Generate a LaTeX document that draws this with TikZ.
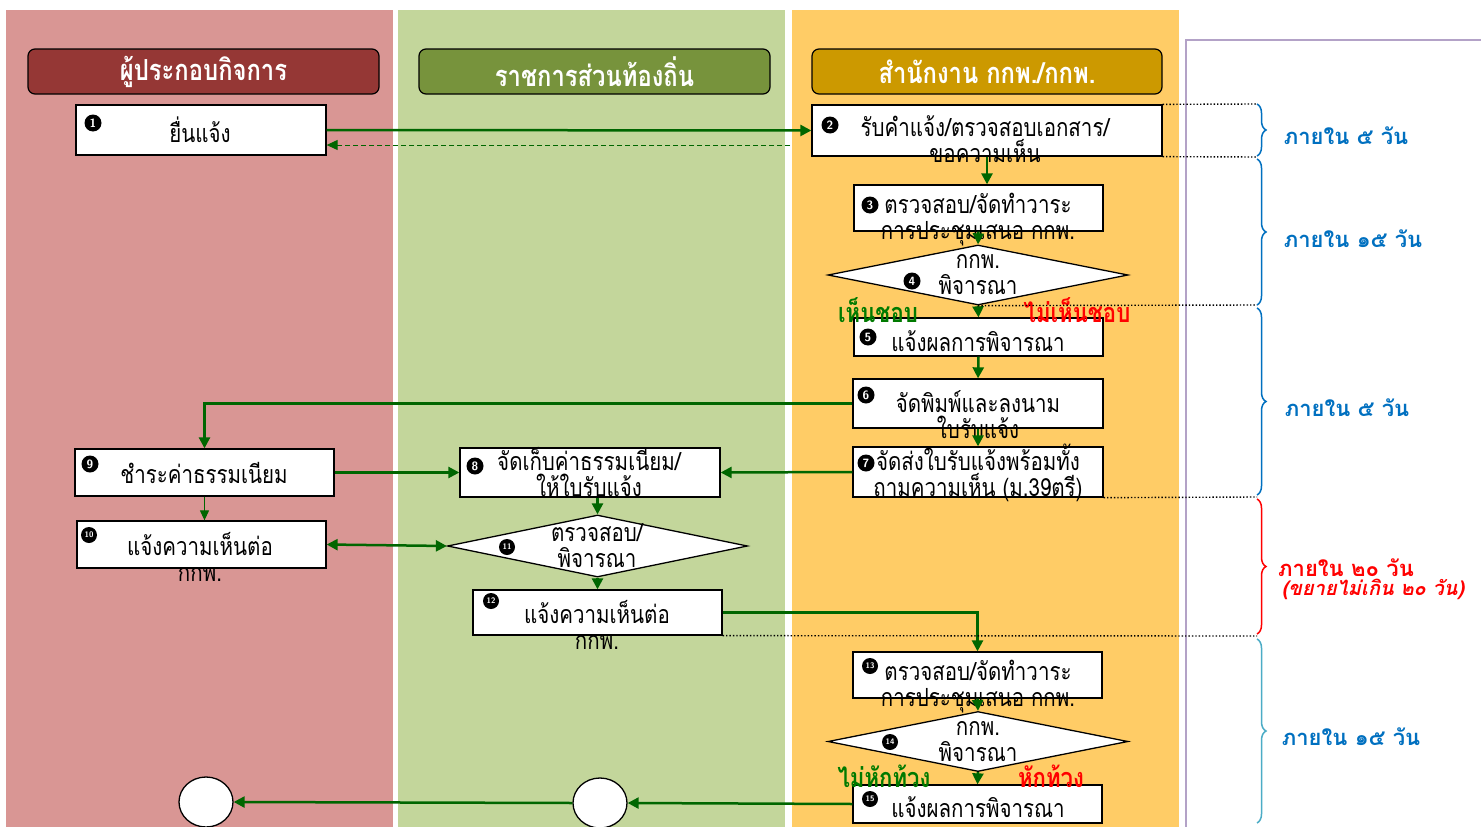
\documentclass[tikz,border=0pt]{standalone}
\usepackage{fontspec}
\newfontfamily\thai[Script=Thai,FakeStretch=0.82]{Loma}
\newfontfamily\thaiw[Script=Thai]{Loma}
\usetikzlibrary{arrows.meta,shapes.geometric,decorations.pathreplacing}
\definecolor{lanered}{HTML}{D99694}
\definecolor{lanegreen}{HTML}{C3D69B}
\definecolor{laneorange}{HTML}{FFCC66}
\definecolor{hdred}{HTML}{953735}
\definecolor{hdgreen}{HTML}{77933C}
\definecolor{hdgold}{HTML}{CC9900}
\definecolor{arrowgreen}{HTML}{006600}
\definecolor{lblgreen}{HTML}{007A00}
\definecolor{timeblue}{HTML}{0070C0}
\definecolor{timecyan}{HTML}{4BACC6}
\definecolor{framecol}{HTML}{B3A2C7}
\begin{document}
\begin{tikzpicture}[x=1pt,y=-1pt,
  hdr/.style={draw=black,line width=1.2pt,rounded corners=7pt,minimum width=351pt,minimum height=45pt,inner sep=0pt,text=white,font=\thai\bfseries\fontsize{29}{32}\selectfont},
  stepbox/.style={draw=black,line width=1.3pt,fill=white,inner sep=0pt},
  decbox/.style={diamond,draw=black,line width=1.3pt,fill=white,inner sep=0pt,minimum width=300pt,minimum height=60pt},
  endbox/.style={ellipse,draw=black,line width=1.3pt,fill=white,inner sep=0pt,minimum width=54pt,minimum height=50pt},
  txt/.style={inner sep=0pt,align=center,font=\thai\fontsize{25}{26}\selectfont},
  mk/.style={circle,fill=black,text=white,inner sep=0pt,minimum size=17pt,font=\sffamily\bfseries\fontsize{12}{12}\selectfont},
  mkc/.style={circle,fill=black,text=white,inner sep=0pt,minimum size=16pt,font=\sffamily\bfseries\fontsize{8}{8}\selectfont},
  ga/.style={draw=arrowgreen,line width=2.5pt,-{Triangle[length=11pt,width=11pt]}},
  gaa/.style={draw=arrowgreen,line width=2.5pt,{Triangle[length=11pt,width=11pt]}-{Triangle[length=11pt,width=11pt]}},
  gthin/.style={draw=arrowgreen,line width=1.2pt,-{Triangle[length=10pt,width=9pt]}},
  gdash/.style={draw=arrowgreen,line width=1pt,dash pattern=on 5pt off 3pt,-{Triangle[length=11pt,width=10pt]}},
  dotl/.style={draw=black,line width=1.4pt,dotted},
  brc/.style={decorate,decoration={brace,amplitude=9pt},line width=1.5pt},
  tlbl/.style={inner sep=0pt,font=\thaiw\bfseries\fontsize{22}{24}\selectfont},
  clbl/.style={inner sep=0pt,font=\thai\bfseries\fontsize{27}{28}\selectfont}
]
\useasboundingbox (0,0) rectangle (1481,827);
\fill[white] (0,0) rectangle (1481,827);
% lanes
\fill[lanered] (6,10) rectangle (393,827);
\fill[lanegreen] (398,10) rectangle (785,827);
\fill[laneorange] (792,10) rectangle (1179,827);
\draw[framecol,line width=1.2pt] (1186,827) -- (1186,40) -- (1481,40);
% headers
\node[hdr,fill=hdred] (H1) at (203.5,71.5) {ผู้ประกอบกิจการ};
\node[hdr,fill=hdgreen] (H2) at (594.5,71.5) {ราชการส่วนท้องถิ่น};
\node[hdr,fill=hdgold,minimum width=350pt] (H3) at (987,71.5) {สำนักงาน กกพ./กกพ.};
% boxes
\node[stepbox,minimum width=250pt,minimum height=50pt] (B1) at (201,130) {};
\node[stepbox,minimum width=350pt,minimum height=51pt] (B2) at (987,130.5) {};
\node[stepbox,minimum width=249pt,minimum height=46pt] (B3) at (978.5,208) {};
\node[decbox] (D4) at (978,275) {};
\node[stepbox,minimum width=249pt,minimum height=38pt] (B5) at (978.5,337) {};
\node[stepbox,minimum width=250pt,minimum height=49pt] (B6) at (978,403.5) {};
\node[stepbox,minimum width=250pt,minimum height=50pt] (B7) at (978,472) {};
\node[stepbox,minimum width=260pt,minimum height=49pt] (B8) at (590,472.5) {};
\node[stepbox,minimum width=259pt,minimum height=47pt] (B9) at (204.5,472.5) {};
\node[stepbox,minimum width=249pt,minimum height=47pt] (B10) at (201.5,544.5) {};
\node[decbox,minimum height=62pt] (D11) at (597.5,546) {};
\node[stepbox,minimum width=249pt,minimum height=45pt] (B12) at (597.5,612.5) {};
\node[stepbox,minimum width=249pt,minimum height=46pt] (B13) at (977.5,675) {};
\node[decbox] (D14) at (978,741.5) {};
\node[stepbox,minimum width=249pt,minimum height=38pt] (B15) at (977.5,804) {};
\node[endbox] (C1) at (206,802) {};
\node[endbox] (C2) at (600,803) {};
% texts
\node[txt] (t1) at (200,130) {ยื่นแจ้ง};
\node[txt] (t2) at (985,139) {รับคำแจ้ง/ตรวจสอบเอกสาร/\\ขอความเห็น};
\node[txt] (t3) at (978,220) {ตรวจสอบ/จัดทำวาระ\\การประชุมเสนอ กกพ.};
\node[txt] (t4) at (978,275) {กกพ.\\พิจารณา};
\node[txt] (t5) at (978,341) {แจ้งผลการพิจารณา};
\node[txt] (t6) at (978,415) {จัดพิมพ์และลงนาม\\ใบรับแจ้ง};
\node[txt] (t7) at (978,473) {จัดส่งใบรับแจ้งพร้อมทั้ง\\ถามความเห็น (ม.39ตรี)};
\node[txt] (t8) at (589,472) {จัดเก็บค่าธรรมเนียม/\\ให้ใบรับแจ้ง};
\node[txt] (t9) at (204,473) {ชำระค่าธรรมเนียม};
\node[txt] (t10) at (200,557) {แจ้งความเห็นต่อ\\กกพ.};
\node[txt] (t11) at (597,546) {ตรวจสอบ/\\พิจารณา};
\node[txt] (t12) at (597,625) {แจ้งความเห็นต่อ\\กกพ.};
\node[txt] (t13) at (978,687) {ตรวจสอบ/จัดทำวาระ\\การประชุมเสนอ กกพ.};
\node[txt] (t14) at (978,742) {กกพ.\\พิจารณา};
\node[txt] (t15) at (978,807) {แจ้งผลการพิจารณา};
% markers
\node[mk] (m1) at (93,123) {1};
\node[mk] (m2) at (830,125) {2};
\node[mk] (m3) at (870,205) {3};
\node[mk] (m4) at (912,281) {4};
\node[mk] (m5) at (868,337) {5};
\node[mk] (m6) at (866,395) {6};
\node[mk] (m7) at (866,463) {7};
\node[mk] (m8) at (475,466) {8};
\node[mk] (m9) at (90,464) {9};
\node[mkc] (m10) at (89,535) {\raisebox{-5pt}{10}};
\node[mkc] (m11) at (507,547) {\raisebox{-5pt}{11}};
\node[mkc] (m12) at (491,601) {\raisebox{-5pt}{12}};
\node[mkc] (m13) at (870,666) {\raisebox{-5pt}{13}};
\node[mkc] (m14) at (890,742) {\raisebox{-5pt}{14}};
\node[mkc] (m15) at (870,799) {\raisebox{-5pt}{15}};
% decision labels
\node[clbl,text=lblgreen] (l1) at (878,310) {เห็นชอบ};
\node[clbl,text=red] (l2) at (1077,310) {ไม่เห็นชอบ};
\node[clbl,text=lblgreen] (l3) at (884,776) {ไม่หักท้วง};
\node[clbl,text=red] (l4) at (1051,776) {หักท้วง};
% connectors
\coordinate (dstart) at (790,145);
\draw[ga] (B1.east) -- (B2.west);
\draw[gdash] (dstart) -- (B1.east |- dstart);
\draw[ga] (B2.south) -- (B2.south |- B3.north);
\draw[ga] (B3.south) -- (D4.north);
\draw[ga] (D4.south) -- (B5.north);
\draw[ga] (B5.south) -- (B6.north);
\draw[ga] (B6.south) -- (B7.north);
\draw[ga] (B6.west) -| (B9.north);
\draw[ga] (B7.west) -- (B8.east);
\draw[ga] (B9.east) -- (B8.west);
\draw[gthin] (B9.south) -- (B9.south |- B10.north);
\draw[gaa] (B10.east) -- (D11.west);
\draw[ga] (D11.north |- B8.south) -- (D11.north);
\draw[ga] (D11.south) -- (B12.north);
\draw[ga] (B12.east) -| (B13.north);
\draw[ga] (B13.south) -- (D14.north);
\draw[ga] (D14.south) -- (B15.north);
\draw[ga] (B15.west) -- (C2.east);
\draw[ga] (C2.west) -- (C1.east);
% time brackets
\coordinate (k0) at (1257,104);
\coordinate (k1) at (1257,157);
\coordinate (k2) at (1257,305);
\coordinate (k3) at (1257,497);
\coordinate (k4) at (1257,636);
\coordinate (k5) at (1257,823);
\draw[dotl] (B2.north east) -- (k0);
\draw[dotl] (B2.south east) -- (k1);
\draw[dotl] (D4.south) -- (k2);
\draw[dotl] (B7.south east) -- (k3);
\draw[dotl] (B12.south east) -- (k4);
\draw[brc,timeblue] (k0) -- (1257,156);
\draw[brc,timeblue] (1257,159) -- (k2);
\draw[brc,timeblue] (1257,308) -- (1257,495);
\draw[brc,red] (1257,499) -- (1257,634);
\draw[brc,timecyan] (1257,639) -- (k5);
\node[tlbl,text=timeblue] (w1) at (1346,136) {ภายใน ๕ วัน};
\node[tlbl,text=timeblue] (w2) at (1353,239) {ภายใน ๑๕ วัน};
\node[tlbl,text=timeblue] (w3) at (1347,408) {ภายใน ๕ วัน};
\node[tlbl,text=red] (w4) at (1346,568) {ภายใน ๒๐ วัน};
\node[tlbl,text=red,font=\thaiw\bfseries\itshape\fontsize{20}{22}\selectfont] (w5) at (1373,589) {(ขยายไม่เกิน ๒๐ วัน)};
\node[tlbl,text=timeblue] (w6) at (1351,737) {ภายใน ๑๕ วัน};
\end{tikzpicture}
\end{document}
